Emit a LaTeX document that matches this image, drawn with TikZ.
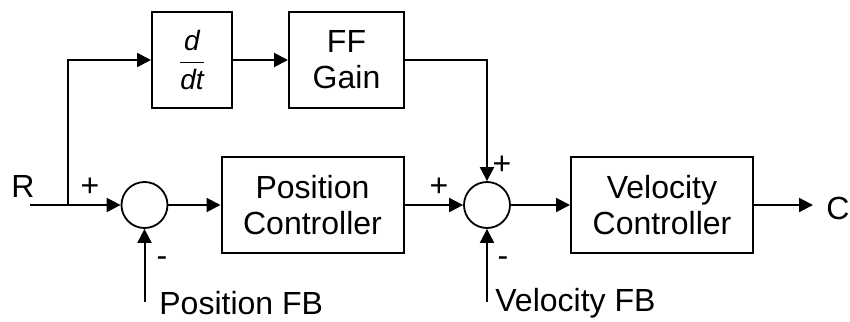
\documentclass[tikz,border=0pt]{standalone}
\usepackage{fontspec}
\setmainfont{Liberation Sans}
\usetikzlibrary{
  arrows.meta,
  positioning,
  calc
}
\tikzset{
  ctrlbox/.style={
    draw=black,
    line width=1pt,
    align=center,
    minimum width=91pt,
    minimum height=48pt,
    inner sep=2pt,
    font=\fontsize{16}{18}\selectfont
  },
  ctrlsum/.style={
    draw=black,
    circle,
    line width=0.9pt,
    minimum size=23pt,
    inner sep=0pt
  },
  ctrlline/.style={
    line width=1pt,
    draw=black
  },
  ctrlarrow/.style={
    -{Triangle[length=7pt,width=7pt]},
    line width=1pt,
    draw=black
  },
  ctrllabel/.style={
    inner sep=0pt,
    font=\fontsize{16}{18}\selectfont
  }
}

\begin{document}
\begin{tikzpicture}[x=0.5pt,y=-0.5pt]
  \useasboundingbox (0,0) rectangle (850,321);

  \node[ctrlbox, minimum width=40pt] (ddt) at (192,60)
    {\fontsize{14}{16}\selectfont$\displaystyle\frac{\textit{d}}{\textit{dt}}$};
  \node[ctrlbox, minimum width=57.5pt] (ffgain) at (346.5,60) {FF\\Gain};
  \node[ctrlsum] (sum1) at (144.5,205) {};
  \node[ctrlbox] (posctrl) at (312.5,205) {Position\\Controller};
  \node[ctrlsum] (sum2) at (487,205) {};
  \node[ctrlbox] (velctrl) at (662,205) {Velocity\\Controller};

  \coordinate (rin) at (30,205);
  \coordinate (br) at (68,205);
  \coordinate (cout) at (813,205);
  \coordinate (pfb) at (144.5,302);
  \coordinate (vfb) at (487,302);

  \node[ctrllabel] (rlabel) at (23,186) {R};
  \node[ctrllabel, anchor=west] (clabel) at (826,208) {C};
  \node[ctrllabel, anchor=west] (pfblabel) at (159,303) {Position FB};
  \node[ctrllabel, anchor=west] (vfblabel) at (495,303) {Velocity FB};
  \node[ctrllabel] (plus1) at (90,187) {+};
  \node[ctrllabel] (minus1) at (162,262) {-};
  \node[ctrllabel] (plus2) at (439,187) {+};
  \node[ctrllabel] (plus3) at (502,165) {+};
  \node[ctrllabel] (minus2) at (503,262) {-};

  \draw[ctrlline] (rin) -- (br);
  \draw[ctrlarrow] (br) -- (sum1);
  \draw[ctrlarrow] (br) |- (ddt);
  \draw[ctrlarrow] (ddt) -- (ffgain);
  \draw[ctrlarrow] (sum1) -- (posctrl);
  \draw[ctrlarrow] (posctrl) -- (sum2);
  \draw[ctrlarrow] (ffgain) -| (sum2);
  \draw[ctrlarrow] (sum2) -- (velctrl);
  \draw[ctrlarrow] (velctrl) -- (cout);
  \draw[ctrlarrow] (pfb) -- (sum1);
  \draw[ctrlarrow] (vfb) -- (sum2);
\end{tikzpicture}
\end{document}
